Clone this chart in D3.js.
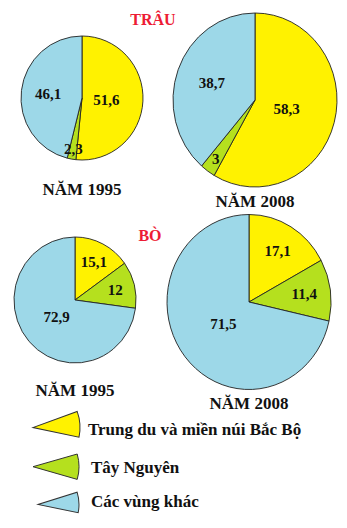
<!DOCTYPE html>
<html>
<head>
<meta charset="utf-8">
<script src="https://cdn.jsdelivr.net/npm/d3@7"></script>
<style>
  html, body { margin: 0; padding: 0; background: #fff; }
  svg { display: block; }
  text { font-family: "Liberation Serif", "Times New Roman", serif; font-weight: bold; }
</style>
</head>
<body>
<svg id="chart" width="347" height="528"></svg>
<script>
// ---- DATA ----
const regions = ["Trung du và miền núi Bắc Bộ", "Tây Nguyên", "Các vùng khác"];
const groupTitles = ["TRÂU", "BÒ"];
const yearLabels = ["NĂM 1995", "NĂM 2008"];
const trau1995 = [51.6, 2.3, 46.1];
const trau2008 = [58.3, 3, 38.7];
const bo1995 = [15.1, 12, 72.9];
const bo2008 = [17.1, 11.4, 71.5];
const valueLabels = {
  trau1995: ["51,6", "2,3", "46,1"],
  trau2008: ["58,3", "3", "38,7"],
  bo1995: ["15,1", "12", "72,9"],
  bo2008: ["17,1", "11,4", "71,5"]
};

// ---- STYLE / LAYOUT ----
const colors = d3.scaleOrdinal().domain(regions).range(["#fff200", "#b5e01e", "#9dd8e8"]);
const svg = d3.select("#chart");

const pies = [
  { key: "trau1995", values: trau1995, cx: 82,  cy: 98,  rx: 61, ry: 62,   year: yearLabels[0], yy: 189 },
  { key: "trau2008", values: trau2008, cx: 255, cy: 100, rx: 82, ry: 87,   year: yearLabels[1], yy: 201 },
  { key: "bo1995",   values: bo1995,   cx: 75,  cy: 300, rx: 61, ry: 63,   year: yearLabels[0], yy: 390 },
  { key: "bo2008",   values: bo2008,   cx: 249, cy: 302, rx: 82, ry: 87.5, year: yearLabels[1], yy: 403 }
];

const pieGen = d3.pie().sort(null).value(d => d);

function labelFactor(v) {
  if (v < 5) return 0.83;
  if (v > 50) return 0.4;
  if (v > 30) return 0.56;
  return 0.68;
}

pies.forEach(p => {
  const sy = p.ry / p.rx;
  const arcs = pieGen(p.values);
  const arc = d3.arc().innerRadius(0).outerRadius(p.rx);
  const g = svg.append("g").attr("transform", `translate(${p.cx},${p.cy}) scale(1,${sy})`);
  g.selectAll("path").data(arcs).join("path")
    .attr("d", arc)
    .attr("fill", (d, i) => colors(regions[i]))
    .attr("stroke", "#222")
    .attr("stroke-width", 0.9)
    .attr("vector-effect", "non-scaling-stroke");

  const lg = svg.append("g").attr("transform", `translate(${p.cx},${p.cy})`);
  lg.selectAll("text").data(arcs).join("text")
    .attr("x", d => {
      const a = (d.startAngle + d.endAngle) / 2;
      return Math.sin(a) * p.rx * labelFactor(d.data);
    })
    .attr("y", d => {
      const a = (d.startAngle + d.endAngle) / 2;
      return -Math.cos(a) * p.ry * labelFactor(d.data);
    })
    .attr("dy", "0.35em")
    .attr("text-anchor", "middle")
    .attr("font-size", 15)
    .attr("fill", "#111")
    .text((d, i) => valueLabels[p.key][i]);

  svg.append("text")
    .attr("x", p.cx).attr("y", p.yy).attr("dy", "0.35em")
    .attr("text-anchor", "middle")
    .attr("font-size", 17)
    .attr("fill", "#111")
    .text(p.year);
});

// group titles
svg.append("text").attr("x", 153).attr("y", 19.5).attr("dy", "0.35em")
  .attr("text-anchor", "middle").attr("font-size", 16).attr("fill", "#ed1c34").text(groupTitles[0]);
svg.append("text").attr("x", 150).attr("y", 235).attr("dy", "0.35em")
  .attr("text-anchor", "middle").attr("font-size", 16).attr("fill", "#ed1c34").text(groupTitles[1]);

// legend
const legendItems = [
  { ax: 33, ay: 427.5, r: 47, half: 16, tilt: -4, ty: 435 },
  { ax: 33, ay: 466.7, r: 46, half: 16, tilt: 0, ty: 472.5 },
  { ax: 38, ay: 504.5, r: 41, half: 14.5, tilt: -3, ty: 507 }
];
legendItems.forEach((L, i) => {
  const a = L.half * Math.PI / 180;
  const wedge = d3.arc().innerRadius(0).outerRadius(L.r)
    .startAngle(Math.PI / 2 - a).endAngle(Math.PI / 2 + a);
  svg.append("path")
    .attr("d", wedge())
    .attr("transform", `translate(${L.ax},${L.ay}) rotate(${L.tilt})`)
    .attr("fill", colors(regions[i]))
    .attr("stroke", "#333")
    .attr("stroke-width", 1);
  svg.append("text")
    .attr("x", i === 0 ? 88 : 91).attr("y", L.ty)
    .attr("font-size", 17)
    .attr("fill", "#111")
    .text(regions[i]);
});
</script>
</body>
</html>
